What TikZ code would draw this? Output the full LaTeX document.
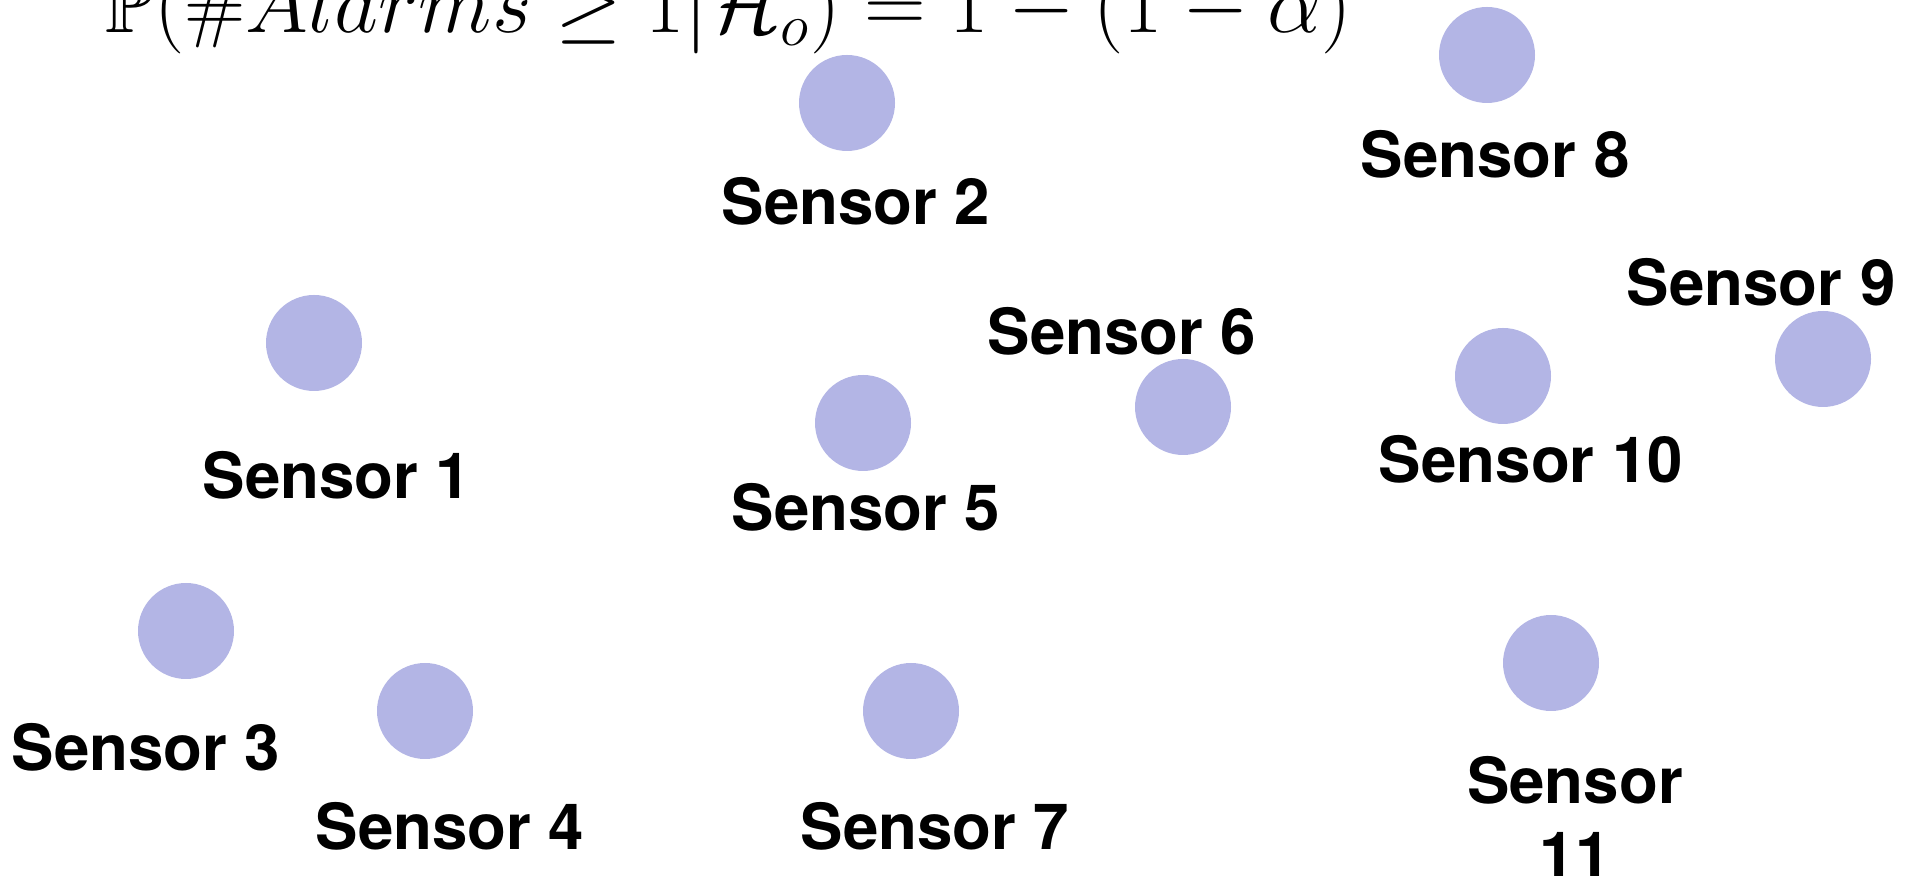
\documentclass[tikz,border=0pt]{standalone}
\usepackage{amsmath,amssymb}
\usepackage{xcolor}
\usepackage{fontspec}
\setsansfont{TeX Gyre Heros}
\usetikzlibrary{positioning}
\definecolor{sensorfill}{RGB}{179,181,229}

\tikzset{
  sensor/.style={circle, fill=sensorfill, minimum size=0.96cm, inner sep=0pt},
  lbl/.style={font=\sffamily\bfseries\fontsize{18.1}{21}\selectfont, inner sep=0pt, align=center}
}

\begin{document}
\begin{tikzpicture}

\useasboundingbox (0,0) rectangle (19.14,-8.76);
\clip (0,0) rectangle (19.14,-8.76);

% false alarm probability (top cut off)
\node[anchor=base west, inner sep=0pt, scale=0.978, font=\fontsize{23}{28}\selectfont] (prob) at (1.05,-0.33)
  {$\mathbb{P}(\#Alarms \geq 1|\mathcal{H}_o) = 1-(1-\alpha)$};

% sensors
\node[sensor] (s1) at (3.14,-3.43) {};
\node[sensor] (s2) at (8.47,-1.03) {};
\node[sensor] (s3) at (1.86,-6.31) {};
\node[sensor] (s4) at (4.25,-7.11) {};
\node[sensor] (s5) at (8.63,-4.23) {};
\node[sensor] (s6) at (11.83,-4.07) {};
\node[sensor] (s7) at (9.11,-7.11) {};
\node[sensor] (s8) at (14.87,-0.55) {};
\node[sensor] (s9) at (18.23,-3.59) {};
\node[sensor] (s10) at (15.03,-3.76) {};
\node[sensor] (s11) at (15.51,-6.63) {};

% labels
\node[lbl] (l1) at (3.37,-4.75) {Sensor 1};
\node[lbl] (l2) at (8.56,-2.01) {Sensor 2};
\node[lbl] (l3) at (1.46,-7.47) {Sensor 3};
\node[lbl] (l4) at (4.50,-8.26) {Sensor 4};
\node[lbl] (l5) at (8.66,-5.07) {Sensor 5};
\node[lbl] (l6) at (11.22,-3.31) {Sensor 6};
\node[lbl] (l7) at (9.35,-8.26) {Sensor 7};
\node[lbl] (l8) at (14.95,-1.54) {Sensor 8};
\node[lbl] (l9) at (17.61,-2.82) {Sensor 9};
\node[lbl] (l10) at (15.31,-4.59) {Sensor 10};
\node[lbl] (l11) at (15.75,-8.17) {Sensor\\11};

\end{tikzpicture}
\end{document}
